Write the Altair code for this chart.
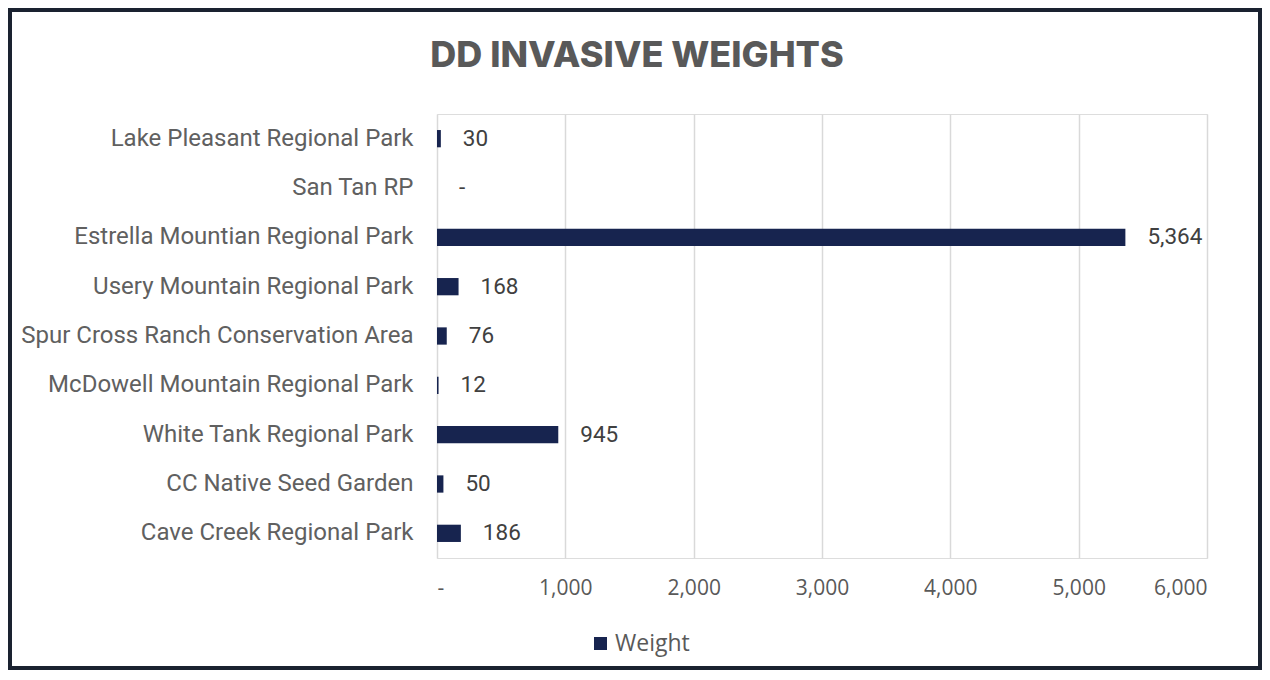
import altair as alt
import pandas as pd

parks = [
    "Lake Pleasant Regional Park",
    "San Tan RP",
    "Estrella Mountian Regional Park",
    "Usery Mountain Regional Park",
    "Spur Cross Ranch Conservation Area",
    "McDowell Mountain Regional Park",
    "White Tank Regional Park",
    "CC Native Seed Garden",
    "Cave Creek Regional Park",
]
weights = [30, 0, 5364, 168, 76, 12, 945, 50, 186]
x_ticks = [0, 1000, 2000, 3000, 4000, 5000, 6000]
title_text = "DD INVASIVE WEIGHTS"

df = pd.DataFrame({
    "Park": parks,
    "Weight": weights,
    "Series": ["Weight"] * len(parks),
    "Label": ["-" if w == 0 else f"{w:,}" for w in weights],
})

BAR = "#17244f"
GRAY = "#595959"

y_enc = alt.Y("Park:N", sort=parks, title=None,
              scale=alt.Scale(paddingInner=0.65, paddingOuter=0.325),
              axis=alt.Axis(labelFont="Roboto", labelFontSize=24, labelFontWeight="normal",
                            labelColor="#606060",
                            labelPadding=24, ticks=False, domain=False, grid=False,
                            labelLimit=500))
x_enc = alt.X("Weight:Q", title=None,
              scale=alt.Scale(domain=[0, 6000], nice=False),
              axis=alt.Axis(values=x_ticks, labelFont="Open Sans", labelFontSize=21,
                            labelColor=GRAY, labelPadding=19, ticks=False, domain=False,
                            grid=True, gridColor="#d9d9d9", gridWidth=1.5,
                            labelExpr="datum.value == 0 ? '-' : format(datum.value, ',')"))

bars = alt.Chart(df).mark_bar(color=BAR).encode(
    x=x_enc, y=y_enc,
    color=alt.Color("Series:N", scale=alt.Scale(range=[BAR]), title=None,
                    legend=alt.Legend(orient="none", legendX=152, legendY=518,
                                      symbolType="square", symbolSize=170,
                                      symbolStrokeWidth=0,
                                      labelFont="Open Sans", labelFontSize=23,
                                      labelColor=GRAY, labelOffset=3)),
)

labels = alt.Chart(df).mark_text(align="left", baseline="middle", dx=22,
                                 font="Roboto", fontSize=22.5,
                                 color="#404040").encode(
    x="Weight:Q", y=alt.Y("Park:N", sort=parks), text="Label:N"
)

title_df = pd.DataFrame({"t": [title_text]})
title = alt.Chart(title_df).mark_text(font="Inter", fontSize=36, fontWeight=800,
                                      color=GRAY, align="center", baseline="middle").encode(
    x=alt.value(200), y=alt.value(-58), text="t:N"
)

border = alt.Chart(title_df).mark_rect(fill=None, stroke="#1a2230", strokeWidth=4).encode(
    x=alt.value(-427), x2=alt.value(823), y=alt.value(-104), y2=alt.value(554)
)

chart = alt.layer(bars, labels, title, border).properties(
    width=770, height=444,
    autosize=alt.AutoSizeParams(type="none"),
    padding={"left": 429, "top": 106, "right": 55, "bottom": 114},
).configure_view(stroke=None).configure(background="white")

chart.save("out.html", embed_options={"renderer": "svg", "actions": False})
